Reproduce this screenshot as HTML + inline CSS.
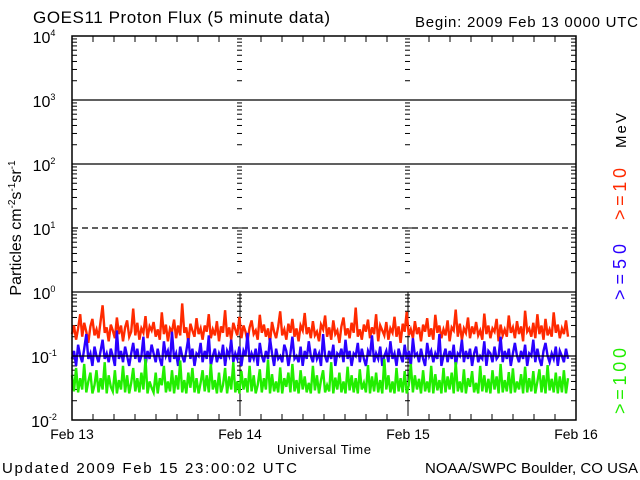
<!DOCTYPE html>
<html><head><meta charset="utf-8"><style>
body{margin:0;background:#fff;}
svg{display:block;font-family:"Liberation Sans",sans-serif;}
</style></head><body>
<svg id="chart" width="640" height="480" xmlns="http://www.w3.org/2000/svg">
<rect width="640" height="480" fill="#fff"/>
<text x="33" y="23" font-size="17" textLength="297" lengthAdjust="spacing">GOES11 Proton Flux (5 minute data)</text>
<text x="415" y="27" font-size="15" textLength="223" lengthAdjust="spacing">Begin: 2009 Feb 13 0000 UTC</text>
<text x="2" y="473" font-size="15" textLength="295" lengthAdjust="spacing">Updated 2009 Feb 15 23:00:02 UTC</text>
<text x="425" y="473" font-size="15" textLength="213" lengthAdjust="spacing">NOAA/SWPC Boulder, CO USA</text>
<text x="277" y="454" font-size="13" textLength="94" lengthAdjust="spacing">Universal Time</text>
<text transform="translate(21,228) rotate(-90)" font-size="16" text-anchor="middle">Particles cm<tspan font-size="10" dy="-6">-2</tspan><tspan dy="6">s</tspan><tspan font-size="10" dy="-6">-1</tspan><tspan dy="6">sr</tspan><tspan font-size="10" dy="-6">-1</tspan></text>
<text transform="translate(626,148) rotate(-90)" font-size="15" textLength="35" lengthAdjust="spacing">MeV</text>
<text transform="translate(626,220) rotate(-90)" font-size="18" fill="#ff2a00" textLength="52" lengthAdjust="spacing">&gt;=10</text>
<text transform="translate(626,300) rotate(-90)" font-size="18" fill="#2a00ff" textLength="56" lengthAdjust="spacing">&gt;=50</text>
<text transform="translate(626,414) rotate(-90)" font-size="18" fill="#22ee00" textLength="66" lengthAdjust="spacing">&gt;=100</text>
<g id="axes"></g>
<g id="series"></g>
<g id="frame"></g>
</svg>
<script>
const dayLabels=["Feb 13","Feb 14","Feb 15","Feb 16"];
const decades=[-2,-1,0,1,2,3,4];
const red=[22,30,18,27,45,20,33,24,16,29,38,21,26,19,35,62,23,28,17,31,
25,19,40,22,30,17,28,36,20,24,55,21,33,18,27,23,42,19,29,25,
34,20,26,18,48,22,31,17,27,24,37,19,30,21,66,23,28,16,32,25,
20,39,22,27,18,30,24,45,19,26,21,35,17,29,23,52,20,28,18,33,
26,21,41,19,30,24,17,28,36,22,25,18,44,23,31,20,27,16,34,24,
19,29,50,21,26,18,32,23,38,20,27,17,30,25,47,22,28,19,35,21,
24,17,31,26,43,20,28,18,36,22,25,16,29,40,21,27,19,33,23,57,
20,26,18,31,24,37,19,28,22,45,17,30,25,21,34,18,27,23,41,20,
29,16,32,24,49,21,26,19,35,22,28,17,31,24,39,20,27,18,44,23,
30,19,26,21,36,17,28,25,53,20,32,18,27,23,40,19,29,22,34,21,
25,18,46,22,30,19,27,24,38,17,31,21,26,20,43,23,28,19,35,22,
29,17,51,24,27,20,33,19,45,22,30,18,38,21,26,20,48,23,31,19,
27,22,36,20];
const blue=[9,12,7,15,10,8,13,22,9,11,7,14,10,8,12,18,9,11,8,13,
10,7,25,9,12,8,14,10,7,11,16,9,13,8,10,20,7,12,9,15,
11,8,13,9,7,17,10,12,8,24,9,11,7,14,10,8,12,19,9,13,
7,11,10,16,8,12,9,21,7,10,13,8,11,9,15,7,12,10,18,8,
11,9,14,7,12,10,23,8,11,9,13,7,16,10,8,12,9,19,11,7,
13,9,10,8,15,12,7,11,20,9,10,8,14,7,12,9,17,10,8,13,
9,11,7,22,10,8,12,9,15,7,11,10,13,8,18,9,12,7,11,10,
16,8,13,9,7,12,10,21,8,11,9,14,7,10,12,8,17,9,11,7,
13,10,8,15,9,12,7,19,10,11,8,13,9,7,16,10,12,8,11,9,
22,7,10,13,8,12,9,15,7,11,10,18,8,12,9,13,7,11,14,8,
10,9,17,7,12,11,8,14,9,10,20,8,12,9,13,7,11,16,10,8,
12,9,15,7,11,10,18,8,13,9,7,12,16,10,8,11,9,14,7,12,
10,8,13,9];
const green=[50,28,65,27,45,30,75,27,40,55,26,35,60,27,45,30,80,26,50,33,
28,60,26,42,30,70,27,50,26,38,65,28,45,27,55,30,90,26,40,32,
27,55,26,45,35,70,27,40,28,60,26,50,30,85,27,42,26,55,32,65,
27,45,26,38,60,28,50,27,75,30,42,26,55,27,35,65,26,48,30,80,
27,40,26,58,30,45,27,70,28,50,26,35,62,27,45,30,88,26,52,28,
40,27,66,26,45,33,55,27,75,28,42,26,60,30,48,27,38,26,70,29,
50,26,42,60,27,35,28,80,26,46,30,55,27,40,26,68,29,50,27,45,
26,62,30,38,27,72,26,48,28,55,27,42,26,90,30,50,27,40,26,65,
28,45,27,58,26,35,75,27,50,30,44,26,60,28,40,27,70,26,52,29,
42,26,65,27,48,30,55,26,80,28,40,27,62,26,45,33,58,27,38,26,
70,28,50,27,44,26,60,30,48,26,75,27,42,28,56,26,64,27,40,30,
52,26,68,27,45,28,58,26,40,62,27,50,26,72,29,44,27,55,26,48,
27,60,26,45];
const NS="http://www.w3.org/2000/svg";
const L=72,R=576,T=36,B=420,DAYW=168;
function yv(v){return B-64*(Math.log10(v)+2);}
function xd(d){return L+d*DAYW;}
function mk(tag,attrs,parent){const e=document.createElementNS(NS,tag);for(const k in attrs)e.setAttribute(k,attrs[k]);parent.appendChild(e);return e;}
const axes=document.getElementById('axes'),frame=document.getElementById('frame'),ser=document.getElementById('series');
decades.forEach(d=>{
  const y=yv(Math.pow(10,d));
  if(d>-2&&d<4){
    const ln=mk('line',{x1:L,x2:R,y1:y,y2:y,stroke:'#000','stroke-width':1.3,'stroke-dasharray':d===1?'6,4':'none'},frame);
    
    
  }
  const t=mk('text',{x:44,y:y+7,'font-size':16,'text-anchor':'middle'},axes);
  
  
  t.textContent='10';
  const s=mk('tspan',{'font-size':9,dy:-7},t);s.textContent=String(d);
  if(d<4){for(let m=2;m<=9;m++){
    const yy=yv(m*Math.pow(10,d));
    [L,R-5,xd(1)-3,xd(2)-3].forEach(x0=>{
      const tk=mk('line',{x1:x0,x2:x0+5,y1:yy,y2:yy,stroke:'#000','stroke-width':1},axes);
      
      
    });
  }
  [xd(1)-4,xd(2)-4].forEach(x0=>{const tk=mk('line',{x1:x0,x2:x0+8,y1:y,y2:y,stroke:'#000','stroke-width':1},axes);});}
});
for(let h=0;h<=72;h+=3){
  const x=L+h*DAYW/24;
  if(h%24!==0){
    const a=mk('line',{x1:x,x2:x,y1:B,y2:B-6,stroke:'#000','stroke-width':1},axes);
    
    
    const b=mk('line',{x1:x,x2:x,y1:T,y2:T+6,stroke:'#000','stroke-width':1},axes);
    
    
  }
}
dayLabels.forEach((lab,i)=>{
  const t=mk('text',{x:xd(i),y:439,'font-size':14,'text-anchor':'middle'},axes);
  
  
  t.textContent=lab;
});
[1,2].forEach(i=>{const v=mk('line',{x1:xd(i),x2:xd(i),y1:yv(1),y2:B,stroke:'#000','stroke-width':1,'stroke-dasharray':'60,4'},axes);});
const fr=mk('rect',{x:L,y:T,width:R-L,height:B-T,fill:'none',stroke:'#000','stroke-width':1.5},frame);


function draw(arr,scale,color,name){
  const step=496/(arr.length-1);
  const pts=arr.map((v,i)=>(L+i*step).toFixed(1)+','+yv(v/scale).toFixed(1)).join(' ');
  const p=mk('polyline',{points:pts,fill:'none',stroke:color,'stroke-width':2.4,'stroke-linejoin':'miter'},ser);
  
  
}
draw(red,100,'#ff2a00','series-10mev');
draw(blue,100,'#2a00ff','series-50mev');
draw(green,1000,'#22ee00','series-100mev');
</script>
</body></html>
